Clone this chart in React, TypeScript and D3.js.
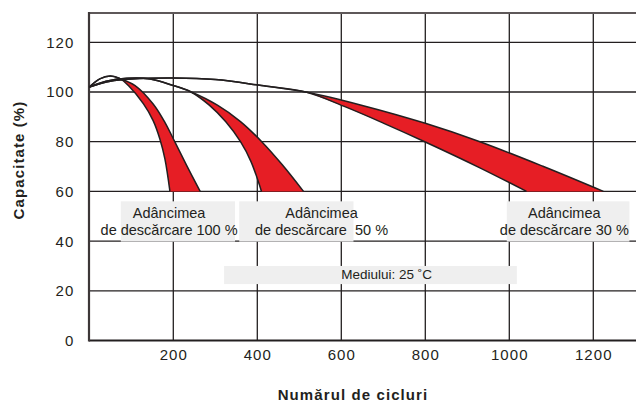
import * as d3 from 'd3';

type Pt = [number, number];

// x axis: number of cycles, y axis: capacity (%)
const cycleTicks = [200, 400, 600, 800, 1000, 1200];
const capacityTicks = [0, 20, 40, 60, 80, 100, 120];

// each depth of discharge is a red band between a short-life and a long-life curve
const dod100Lower: Pt[] = [[0, 102], [25, 105.3], [50, 106.4], [73, 105.4], [93, 102.6], [129, 95.2], [152, 88.5], [168, 81.1], [180, 73.1], [192, 60]];
const dod100Upper: Pt[] = [[0, 102], [25, 105.3], [50, 106.4], [73, 105.4], [109, 102.6], [152, 95.2], [180, 87.8], [204, 79.8], [232, 70.4], [264, 60]];

const dod50Lower: Pt[] = [[0, 102], [40, 104.3], [90, 105.5], [145, 105.2], [200, 102.6], [240, 100.2], [285, 94.8], [325, 88], [360, 80], [385, 72], [410, 60]];
const dod50Upper: Pt[] = [[0, 102], [40, 104.3], [90, 105.5], [145, 105.2], [200, 102.6], [240, 100.2], [305, 94.7], [360, 88.1], [410, 80.1], [460, 70.6], [510, 60]];

const dod30Lower: Pt[] = [[0, 102], [50, 104.3], [100, 105.2], [200, 105.6], [300, 105], [410, 102.6], [518, 99.9], [610, 94], [700, 87.5], [800, 79.9], [930, 69.5], [1041, 60]];
const dod30Upper: Pt[] = [[0, 102], [50, 104.3], [100, 105.2], [200, 105.6], [300, 105], [410, 102.6], [518, 99.9], [650, 94.6], [800, 87.4], [930, 80], [1080, 70.1], [1224, 60]];

// index where the two curves part and the red fill starts
const bands = [
  { lower: dod100Lower, upper: dod100Upper, split: 3 },
  { lower: dod50Lower, upper: dod50Upper, split: 5 },
  { lower: dod30Lower, upper: dod30Upper, split: 6 },
];

const dodLabels = [
  { lines: ['Adâncimea', 'de descărcare 100 %'], box: [75, 347], center: 190 },
  { lines: ['Adâncimea', 'de descărcare  50 %'], box: [357, 629], center: 553 },
  { lines: ['Adâncimea', 'de descărcare 30 %'], box: [994, 1286], center: 1131 },
];
const ambientLabel = 'Mediului: 25 ˚C';

const W = 636;
const H = 403;
const margin = { top: 13, right: 0, bottom: 63, left: 89 };
const FONT = '"Liberation Sans", Arial, Helvetica, sans-serif';
const INK = '#231f20';
const RED = '#e61e25';

export default function App() {
  const x = d3.scaleLinear().domain([0, 1300]).range([margin.left + 0.3, W - 0.7]);
  const y = d3.scaleLinear().domain([0, 132]).range([H - margin.bottom + 0.5, margin.top - 0.5]);

  const line = d3
    .line<Pt>()
    .x((d) => x(d[0]))
    .y((d) => y(d[1]))
    .curve(d3.curveCatmullRom.alpha(0.5));

  const bandPath = (lower: Pt[], upper: Pt[], split: number) => {
    const a = line(lower.slice(split)) || '';
    const b = (line(upper.slice(split).reverse()) || '').replace(/^M/, 'L');
    return a + b + 'Z';
  };

  const plotBottom = y(0);
  const plotTop = margin.top;

  return (
    <svg
      width={W}
      height={H}
      style={{ position: 'absolute', left: 0, top: 0, display: 'block', background: '#fff' }}
      fontFamily={FONT}
    >
      {/* grid */}
      {capacityTicks.slice(1).map((t) => (
        <line key={'h' + t} x1={margin.left} x2={W} y1={y(t)} y2={y(t)} stroke={INK} strokeWidth={1.3} />
      ))}
      {cycleTicks.map((t) => (
        <line key={'v' + t} x1={x(t)} x2={x(t)} y1={plotTop} y2={plotBottom} stroke={INK} strokeWidth={1.3} />
      ))}

      {/* frame */}
      <line x1={margin.left} x2={W} y1={plotTop} y2={plotTop} stroke="#5e5859" strokeWidth={2.2} />
      <line x1={margin.left} x2={W} y1={plotBottom} y2={plotBottom} stroke={INK} strokeWidth={2} />
      <line x1={margin.left} x2={margin.left} y1={plotTop - 1} y2={plotBottom + 1} stroke="#3d3738" strokeWidth={2.2} />

      {/* bands */}
      {bands.map((b, i) => (
        <path key={'f' + i} d={bandPath(b.lower, b.upper, b.split)} fill={RED} stroke="none" />
      ))}
      {bands.map((b, i) => (
        <g key={'l' + i} fill="none" stroke={INK} strokeWidth={1.5}>
          <path d={line(b.lower) || ''} />
          <path d={line(b.upper) || ''} />
        </g>
      ))}

      {/* labels */}
      {dodLabels.map((l, i) => (
        <g key={'d' + i}>
          <rect
            x={x(l.box[0])}
            y={y(56)}
            width={x(l.box[1]) - x(l.box[0])}
            height={y(39.8) - y(56)}
            fill="#efefef"
          />
          <text x={x(l.center)} y={y(49.4)} textAnchor="middle" fontSize={14.5} fill={INK} style={{ whiteSpace: 'pre' }}>
            {l.lines[0]}
          </text>
          <text x={x(l.center)} y={y(42.5)} textAnchor="middle" fontSize={14.5} fill={INK} style={{ whiteSpace: 'pre' }}>
            {l.lines[1]}
          </text>
        </g>
      ))}
      <rect x={x(321)} y={y(30)} width={x(1018) - x(321)} height={y(22.7) - y(30)} fill="#efefef" />
      <text x={x(708)} y={y(24.9)} textAnchor="middle" fontSize={13.5} fill={INK}>
        {ambientLabel}
      </text>

      {/* tick labels */}
      {capacityTicks.map((t) => (
        <text key={'yt' + t} x={74.5} y={y(t)} dy="0.36em" textAnchor="end" fontSize={15} letterSpacing={1.1} fill={INK}>
          {t}
        </text>
      ))}
      {cycleTicks.map((t) => (
        <text key={'xt' + t} x={x(t) + 0.5} y={360} textAnchor="middle" fontSize={15} letterSpacing={1.1} fill={INK}>
          {t}
        </text>
      ))}

      {/* axis titles */}
      <text
        transform="translate(23.5,160) rotate(-90)"
        textAnchor="middle"
        fontSize={15}
        fontWeight="bold"
        letterSpacing={1.1}
        fill={INK}
      >
        Capacitate (%)
      </text>
      <text x={353} y={400} textAnchor="middle" fontSize={15} fontWeight="bold" letterSpacing={1.1} fill={INK}>
        Numărul de cicluri
      </text>
    </svg>
  );
}
